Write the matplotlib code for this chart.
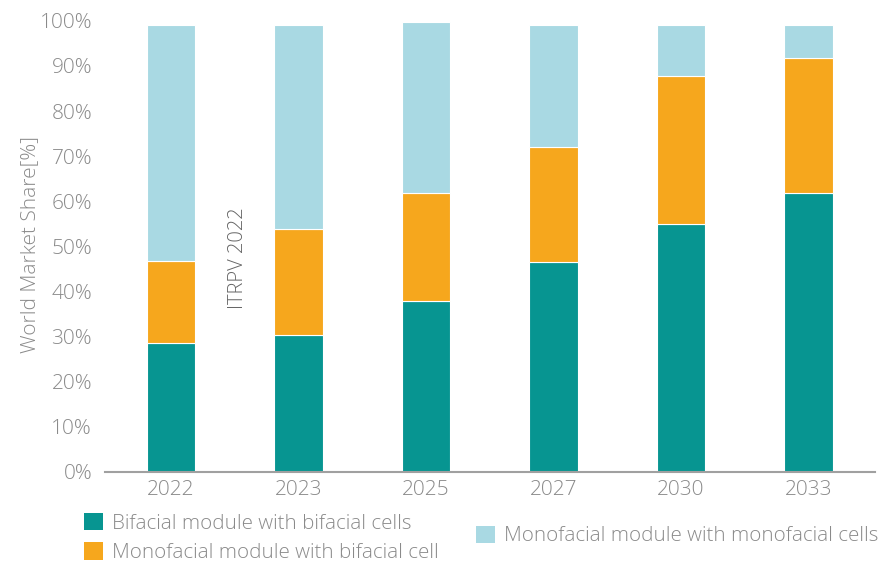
import matplotlib
matplotlib.use("Agg")
import matplotlib.pyplot as plt
from matplotlib.patches import Patch
from matplotlib.ticker import FuncFormatter

years = ["2022", "2023", "2025", "2027", "2030", "2033"]
bifacial_bifacial = [28.5, 30.3, 37.8, 46.5, 54.9, 61.8]
monofacial_bifacial = [18.3, 23.5, 24.0, 25.5, 32.8, 29.9]
monofacial_monofacial = [52.2, 45.4, 37.9, 27.2, 11.3, 7.5]
series_names = ["Bifacial module with bifacial cells",
                "Monofacial module with bifacial cell",
                "Monofacial module with monofacial cells"]
colors = ["#079591", "#F6A71D", "#A9D9E3"]

plt.rcParams['font.family'] = ['Open Sans', 'DejaVu Sans']
plt.rcParams['font.weight'] = 'light'
text_color = "#8a8a8a"

fig = plt.figure(figsize=(8.87, 5.65), dpi=100)
ax = fig.add_axes([0.118, 0.165, 0.868, 0.798])

x = list(range(len(years)))
bottom = [0.0] * len(years)
for vals, col in zip([bifacial_bifacial, monofacial_bifacial, monofacial_monofacial], colors):
    ax.bar(x, vals, bottom=bottom, width=0.38, color=col, edgecolor="white", linewidth=0.8)
    bottom = [b + v for b, v in zip(bottom, vals)]

ax.set_xlim(-0.52, len(years) - 0.48)
ax.set_ylim(0, 100)
ax.set_yticks(range(0, 101, 10))
ax.yaxis.set_major_formatter(FuncFormatter(lambda v, p: f"{int(v)}%"))
ax.set_xticks(x)
ax.set_xticklabels(years)
ax.tick_params(axis='both', length=0, labelsize=15, labelcolor=text_color)
ax.tick_params(axis='x', pad=6)
ax.tick_params(axis='y', pad=9)
for lbl in ax.get_xticklabels() + ax.get_yticklabels():
    lbl.set_fontweight('light')
for s in ["top", "right", "left"]:
    ax.spines[s].set_visible(False)
ax.spines["bottom"].set_color("#a0a0a0")
ax.spines["bottom"].set_linewidth(1.5)

ax.set_ylabel("World Market Share[%]", fontsize=15, color=text_color, fontweight='light')
ax.yaxis.set_label_coords(-0.084, 0.505)

fig.text(238 / 887, 1 - 258 / 565, "ITRPV 2022", rotation=90, ha="center", va="center",
         fontsize=14.5, color="#666666", fontweight='light')

legend_kw = dict(frameon=False, handlelength=0.92, handleheight=0.92, handletextpad=0.45,
                 borderaxespad=0, borderpad=0, prop={'size': 14.8, 'weight': 'light'})
h1 = [Patch(facecolor=colors[0]), Patch(facecolor=colors[1])]
leg1 = fig.legend(h1, series_names[:2], loc="center left",
                  bbox_to_anchor=(84 / 887, 1 - 538 / 565), labelspacing=0.42, **legend_kw)
for t in leg1.get_texts():
    t.set_color(text_color)
h2 = [Patch(facecolor=colors[2])]
leg2 = fig.legend(h2, series_names[2:], loc="center left",
                  bbox_to_anchor=(476 / 887, 1 - 536 / 565), **legend_kw)
for t in leg2.get_texts():
    t.set_color(text_color)

fig.savefig("out.png", dpi=100)
